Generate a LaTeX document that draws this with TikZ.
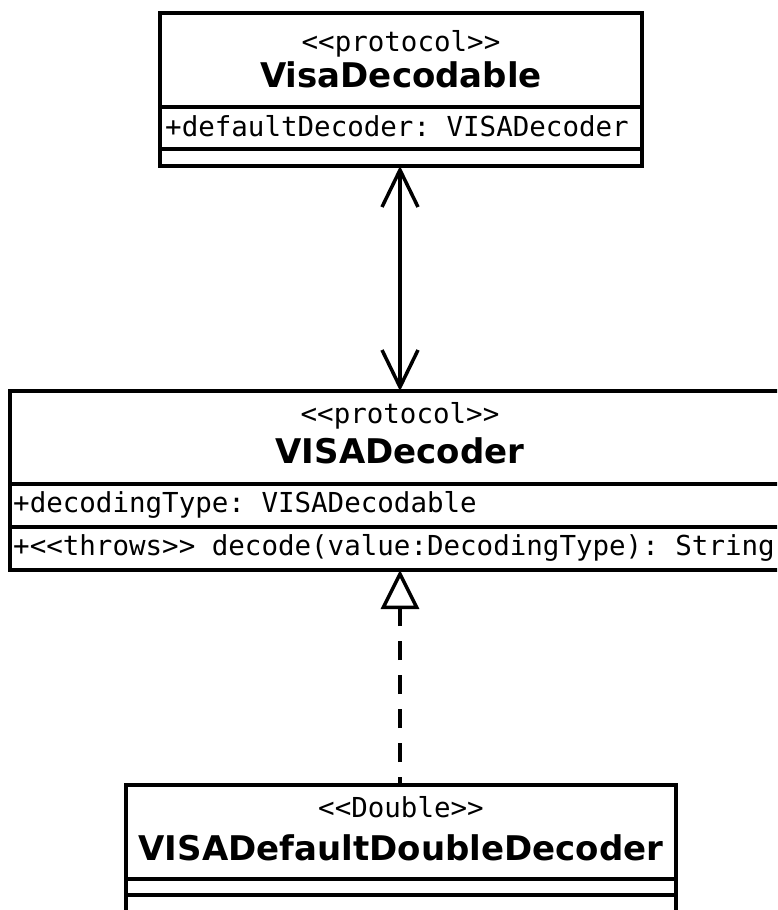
\documentclass[tikz,border=0pt]{standalone}
\usepackage{fontspec}
\setmonofont{DejaVu Sans Mono}
\setsansfont{DejaVu Sans}
\usetikzlibrary{arrows.meta}
\tikzset{
  classbox/.style={draw=black, line width=4pt, fill=white, rectangle, inner sep=0pt, outer sep=0pt},
  divider/.style={draw=black, line width=4pt},
  stereo/.style={inner sep=0pt, anchor=base, font=\fontsize{27.5pt}{30pt}\selectfont\ttfamily},
  cname/.style={inner sep=0pt, anchor=base, font=\fontsize{34pt}{36pt}\selectfont\sffamily\bfseries},
  member/.style={inner sep=0pt, anchor=base west, font=\fontsize{27.5pt}{30pt}\selectfont\ttfamily},
  assoc/.style={line width=3.5pt, {Straight Barb[length=37pt,width=36pt]}-{Straight Barb[length=37pt,width=36pt]}},
  realize/.style={line width=3.5pt, dash pattern=on 19pt off 15pt, dash phase=11pt, -{Triangle[open,length=39pt,width=38pt,fill=white]}}
}
\begin{document}
\begin{tikzpicture}[x=1pt,y=-1pt]
\useasboundingbox (0,0) rectangle (777,910);
\fill[white] (0,0) rectangle (777,910);
\clip (0,0) rectangle (777,910);
% boxes
\node[classbox, minimum width=482pt, minimum height=153pt] (top) at (401,89.5) {};
\node[classbox, minimum width=780pt, minimum height=179pt] (mid) at (400,480.5) {};
\node[classbox, minimum width=550pt, minimum height=175pt] (bot) at (401,872.5) {};
% dividers
\draw[divider] (top.west |- 0,107) -- (top.east |- 0,107);
\draw[divider] (top.west |- 0,149) -- (top.east |- 0,149);
\draw[divider] (mid.west |- 0,484) -- (mid.east |- 0,484);
\draw[divider] (mid.west |- 0,527) -- (mid.east |- 0,527);
\draw[divider] (bot.west |- 0,879) -- (bot.east |- 0,879);
\draw[divider] (bot.west |- 0,895) -- (bot.east |- 0,895);
% texts
\node[stereo] (topst) at (401,51) {<{}<protocol>{}>};
\node[cname] (topnm) at (401,87) {VisaDecodable};
\node[member] (topat) at (165,136) {+defaultDecoder: VISADecoder};
\node[stereo] (midst) at (400,423) {<{}<protocol>{}>};
\node[cname] (midnm) at (400,463) {VISADecoder};
\node[member] (midat) at (13,512) {+decodingType: VISADecodable};
\node[member] (midop) at (13,555) {+<{}<throws>{}> decode(value:DecodingType): String};
\node[stereo] (botst) at (401,817) {<{}<Double>{}>};
\node[cname] (botnm) at (401,860) {VISADefaultDoubleDecoder};
% connectors
\draw[assoc] (top.south -| mid.north) -- (mid.north);
\draw[realize] (bot.north -| mid.south) -- (mid.south);
\end{tikzpicture}
\end{document}
